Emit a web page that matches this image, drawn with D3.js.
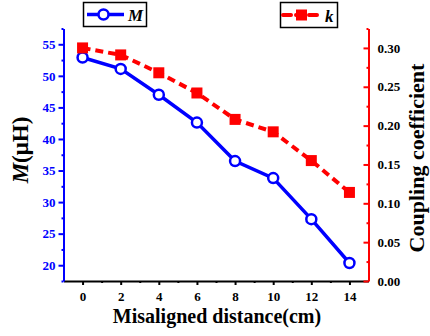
<!DOCTYPE html>
<html>
<head>
<meta charset="utf-8">
<script src="https://cdn.jsdelivr.net/npm/d3@7"></script>
<style>
  html, body { margin: 0; padding: 0; background: #fff; }
  svg { display: block; font-family: "Liberation Serif", "Times New Roman", serif; }
</style>
</head>
<body>
<svg id="chart" width="430" height="336"></svg>
<script>
// Misalignment data: mutual inductance M and coupling coefficient k
const distances = [0, 2, 4, 6, 8, 10, 12, 14];
const mValues = [52.9, 51.1, 47.0, 42.6, 36.5, 33.8, 27.3, 20.35];
const kValues = [0.300, 0.291, 0.268, 0.242, 0.208, 0.192, 0.155, 0.114];
const xTicks = [0, 2, 4, 6, 8, 10, 12, 14];
const mTicks = [20, 25, 30, 35, 40, 45, 50, 55];
const kTicks = [0.00, 0.05, 0.10, 0.15, 0.20, 0.25, 0.30];

const BLUE = "#0000ff", RED = "#ff0000";
const FONT = "'Liberation Serif', 'Times New Roman', serif";
const svg = d3.select("#chart");
const plot = { left: 63.5, right: 368.5, top: 28.5, bottom: 281 };

const x = d3.scaleLinear().domain([-1, 15]).range([plot.left, plot.right]);
const yM = d3.scaleLinear().domain([17.5, 57.5]).range([plot.bottom, plot.top]);
const yK = d3.scaleLinear().domain([0, 0.325]).range([plot.bottom, plot.top]);

function styleLabels(g, color) {
  g.attr("font-family", null);
  g.selectAll(".tick text").attr("font-size", 13).attr("font-weight", "bold")
    .attr("fill", color).style("font-family", FONT);
}

// Bottom axis
const xAxis = svg.append("g").attr("transform", `translate(0,${plot.bottom})`)
  .call(d3.axisBottom(x).tickValues(xTicks).tickFormat(d3.format("d")).tickSize(4).tickSizeOuter(0).tickPadding(7));
xAxis.select(".domain").attr("stroke", "#000").attr("stroke-width", 2);
xAxis.selectAll(".tick line").attr("stroke", "#000").attr("stroke-width", 2);
styleLabels(xAxis, "#000");
svg.append("g").attr("transform", `translate(0,${plot.bottom})`)
  .call(d3.axisBottom(x).tickValues(d3.range(1, 14, 2)).tickFormat("").tickSize(2).tickSizeOuter(0))
  .call(g => g.select(".domain").remove())
  .selectAll("line").attr("stroke", "#000").attr("stroke-width", 2);

// Left axis (M)
const yAxisL = svg.append("g").attr("transform", `translate(${plot.left},0)`)
  .call(d3.axisLeft(yM).tickValues(mTicks).tickSize(5).tickSizeOuter(0).tickPadding(3));
yAxisL.select(".domain").attr("stroke", BLUE).attr("stroke-width", 2);
yAxisL.selectAll(".tick line").attr("stroke", BLUE).attr("stroke-width", 2);
styleLabels(yAxisL, BLUE);
svg.append("g").attr("transform", `translate(${plot.left},0)`)
  .call(d3.axisLeft(yM).tickValues(d3.range(17.5, 58, 5)).tickFormat("").tickSize(2).tickSizeOuter(0))
  .call(g => g.select(".domain").remove())
  .selectAll("line").attr("stroke", BLUE).attr("stroke-width", 2);

// Right axis (k), ticks pointing into the plot
const yAxisR = svg.append("g").attr("transform", `translate(${plot.right},0)`)
  .call(d3.axisRight(yK).tickValues(kTicks).tickFormat(d3.format(".2f")).tickSize(-5).tickSizeOuter(0).tickPadding(9));
yAxisR.select(".domain").attr("stroke", RED).attr("stroke-width", 2);
yAxisR.selectAll(".tick line").attr("stroke", RED).attr("stroke-width", 2);
styleLabels(yAxisR, "#000");
svg.append("g").attr("transform", `translate(${plot.right},0)`)
  .call(d3.axisRight(yK).tickValues(d3.range(0.025, 0.33, 0.05)).tickFormat("").tickSize(-2).tickSizeOuter(0))
  .call(g => g.select(".domain").remove())
  .selectAll("line").attr("stroke", RED).attr("stroke-width", 2);

// Axis titles
svg.append("text").attr("x", 217).attr("y", 323).attr("text-anchor", "middle")
  .attr("font-size", 20).attr("font-weight", "bold").text("Misaligned distance(cm)");
const tl = svg.append("text").attr("transform", "translate(28,150) rotate(-90)")
  .attr("text-anchor", "middle").attr("font-size", 23).attr("font-weight", "bold");
tl.append("tspan").attr("font-style", "italic").text("M");
tl.append("tspan").text("(μH)");
svg.append("text").attr("transform", "translate(424,158) rotate(-90)")
  .attr("text-anchor", "middle").attr("font-size", 22).attr("font-weight", "bold").text("Coupling coefficient");

// M series
svg.append("path").datum(distances.map((d, i) => [d, mValues[i]]))
  .attr("fill", "none").attr("stroke", BLUE).attr("stroke-width", 3.5)
  .attr("d", d3.line().x(d => x(d[0])).y(d => yM(d[1])));
svg.append("g").selectAll("circle").data(distances.map((d, i) => [d, mValues[i]])).join("circle")
  .attr("cx", d => x(d[0])).attr("cy", d => yM(d[1])).attr("r", 5)
  .attr("fill", "#fff").attr("stroke", BLUE).attr("stroke-width", 2.5);

// k series
svg.append("path").datum(distances.map((d, i) => [d, kValues[i]]))
  .attr("fill", "none").attr("stroke", RED).attr("stroke-width", 4).attr("stroke-dasharray", "8,5")
  .attr("d", d3.line().x(d => x(d[0])).y(d => yK(d[1])));
svg.append("g").selectAll("rect").data(distances.map((d, i) => [d, kValues[i]])).join("rect")
  .attr("x", d => x(d[0]) - 5.5).attr("y", d => yK(d[1]) - 5.5).attr("width", 11).attr("height", 11)
  .attr("fill", RED);

// Legends
const lgM = svg.append("g");
lgM.append("rect").attr("x", 83.5).attr("y", 2.5).attr("width", 63).attr("height", 24)
  .attr("fill", "#fff").attr("stroke", "#000").attr("stroke-width", 1.5);
lgM.append("line").attr("x1", 87).attr("x2", 124).attr("y1", 14.5).attr("y2", 14.5)
  .attr("stroke", BLUE).attr("stroke-width", 3.5);
lgM.append("circle").attr("cx", 103.5).attr("cy", 14.5).attr("r", 5)
  .attr("fill", "#fff").attr("stroke", BLUE).attr("stroke-width", 2.5);
lgM.append("text").attr("x", 128).attr("y", 20.5).attr("font-size", 17).attr("font-weight", "bold")
  .attr("font-style", "italic").text("M");

const lgK = svg.append("g");
lgK.append("rect").attr("x", 280.5).attr("y", 2.5).attr("width", 57).attr("height", 25)
  .attr("fill", "#fff").attr("stroke", "#000").attr("stroke-width", 1.5);
lgK.append("line").attr("x1", 283).attr("x2", 320).attr("y1", 15).attr("y2", 15)
  .attr("stroke", RED).attr("stroke-width", 4).attr("stroke-dasharray", "8,5").attr("stroke-linecap", "round");
lgK.append("rect").attr("x", 296).attr("y", 9.5).attr("width", 11).attr("height", 11).attr("fill", RED);
lgK.append("text").attr("x", 325).attr("y", 21.5).attr("font-size", 17).attr("font-weight", "bold")
  .attr("font-style", "italic").text("k");
</script>
</body>
</html>
